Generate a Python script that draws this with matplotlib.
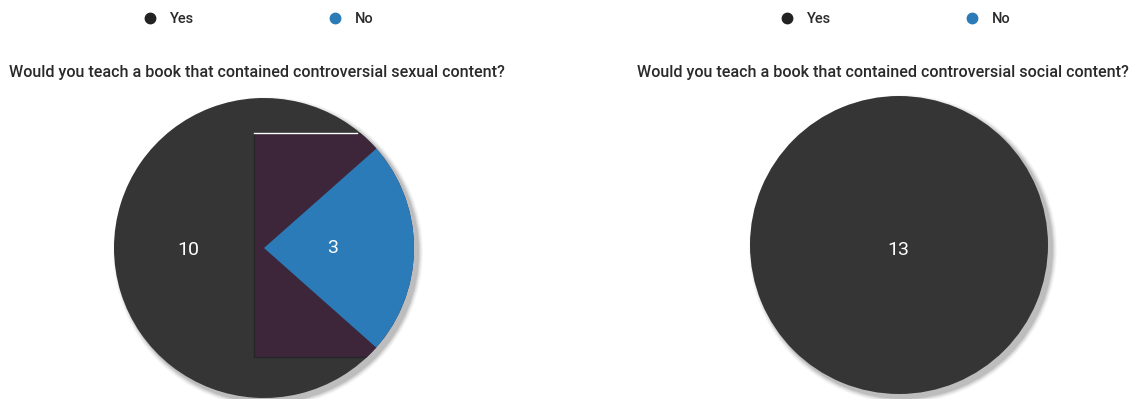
import matplotlib
matplotlib.use("Agg")
import matplotlib.pyplot as plt
from matplotlib.patches import Circle, Rectangle

plt.rcParams['font.family'] = ['Roboto', 'Liberation Sans', 'DejaVu Sans']

categories = ['Yes', 'No']
sexual_counts = [10, 3]
social_counts = [13, 0]
titles = ['Would you teach a book that contained controversial sexual content?',
          'Would you teach a book that contained controversial social content?']
colors = ['#353535', '#2b7bb9']
legend_colors = ['#222222', '#2b7bb9']

W, H = 1144, 399
fig = plt.figure(figsize=(W / 100, H / 100), dpi=100)
ax = fig.add_axes([0, 0, 1, 1])

def Y(y):
    return H - y

panels = [
    dict(counts=sexual_counts, title=titles[0], center=(264, 248), r=150,
         title_x=9, leg_x=(150, 335), start=41.5, lab_pos=[(188, 250), (333, 248)]),
    dict(counts=social_counts, title=titles[1], center=(899, 245), r=149,
         title_x=637, leg_x=(787, 972), start=90, lab_pos=[(898, 250), None]),
]

for p in panels:
    cx, cy = p['center']
    r = p['r']
    # soft shadow
    for i, a in enumerate([0.03, 0.04, 0.05, 0.07, 0.09]):
        ax.add_patch(Circle((cx + 4, Y(cy) - 4), r + 5 - i, color='#000000',
                            alpha=a, lw=0, zorder=1))
    wedges, _ = ax.pie(p['counts'], colors=colors, center=(cx, Y(cy)), radius=r,
                       startangle=p['start'], counterclock=True,
                       wedgeprops=dict(linewidth=0), frame=True)
    wedges[0].set_zorder(2)
    wedges[1].set_zorder(4)
    # legend
    for lx, lab, col in zip(p['leg_x'], categories, legend_colors):
        ax.plot(lx, Y(18), 'o', ms=7.5, color=col, zorder=5)
        ax.text(lx + 20, Y(19), lab, fontsize=10.5, fontweight='medium', va='center',
                ha='left', color='#2a2a2a')
    ax.text(p['title_x'], Y(73), p['title'], fontsize=11.6, fontweight='medium',
            va='center', ha='left', color='#2a2a2a')
    # value labels
    for v, pos in zip(p['counts'], p['lab_pos']):
        if v == 0 or pos is None:
            continue
        ax.text(pos[0], Y(pos[1]), str(v), color='white', fontsize=14, ha='center',
                va='center', zorder=6)

# overlay artifact on left pie (behind the No wedge, over the Yes wedge)
rect = Rectangle((254, Y(357)), 160, 224, facecolor='#3d2639', edgecolor='#262626',
                 lw=1.0, zorder=3)
ax.add_patch(rect)
rect.set_clip_path(Circle((264, Y(248)), 150, transform=ax.transData))
ax.plot([254, 357], [Y(133), Y(133)], color='white', lw=1, zorder=3.5)

ax.set_xlim(0, W)
ax.set_ylim(0, H)
ax.set_aspect('equal')
ax.axis('off')
fig.savefig('out.png', dpi=100, facecolor='white')
